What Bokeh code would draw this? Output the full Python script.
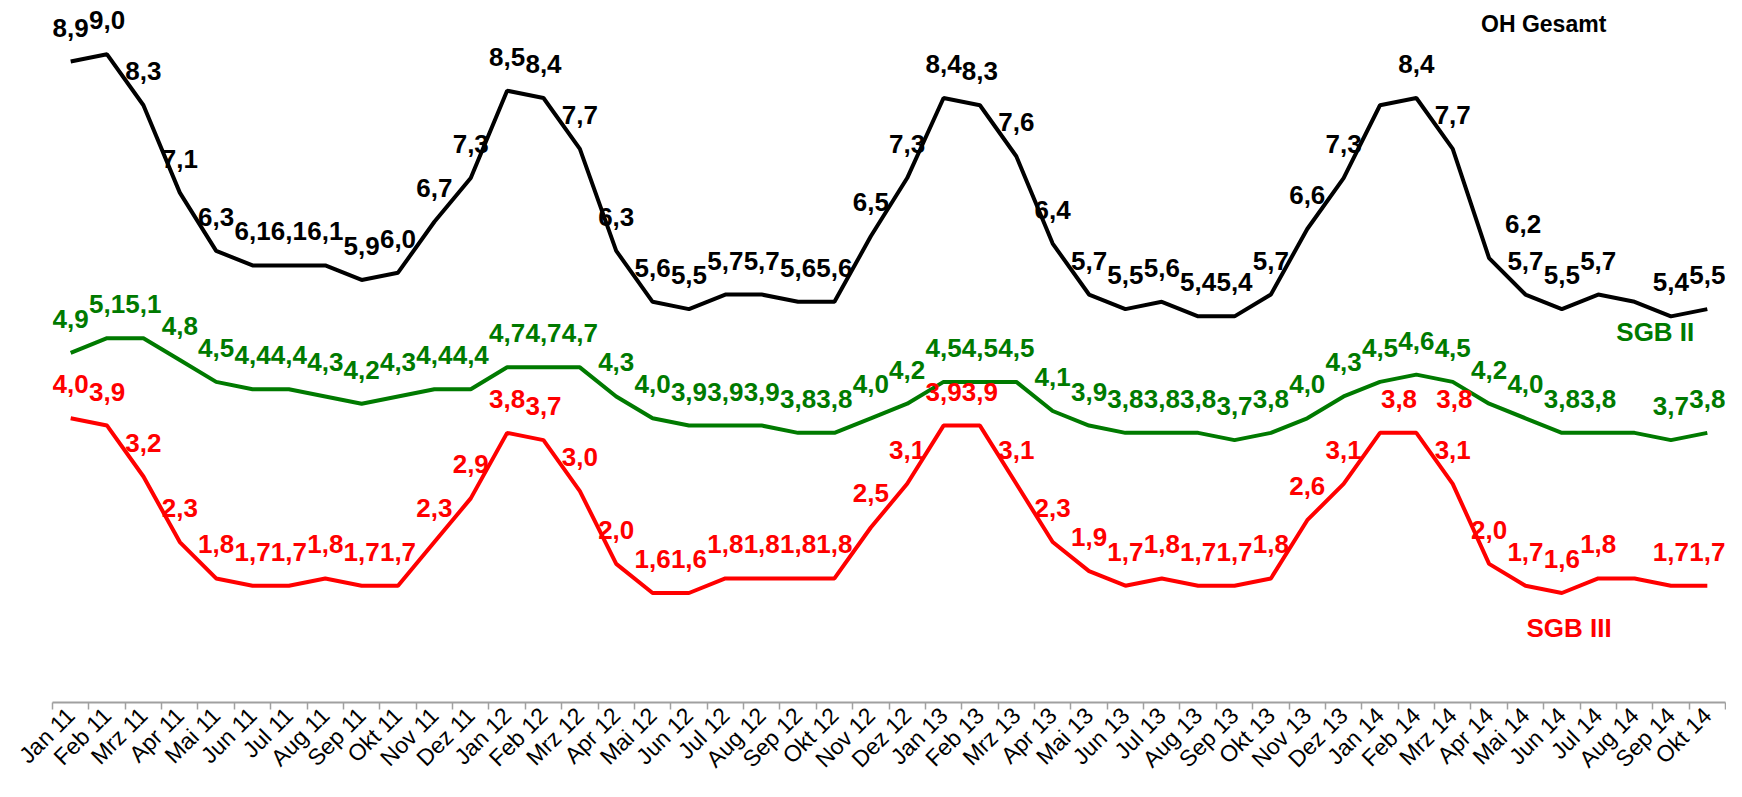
from bokeh.plotting import figure
from bokeh.models import Range1d, FixedTicker, ColumnDataSource
from bokeh.embed import file_html
from bokeh.resources import INLINE
from bokeh.core.properties import value

months = ["Jan 11", "Feb 11", "Mrz 11", "Apr 11", "Mai 11", "Jun 11", "Jul 11", "Aug 11", "Sep 11", "Okt 11", "Nov 11", "Dez 11",
          "Jan 12", "Feb 12", "Mrz 12", "Apr 12", "Mai 12", "Jun 12", "Jul 12", "Aug 12", "Sep 12", "Okt 12", "Nov 12", "Dez 12",
          "Jan 13", "Feb 13", "Mrz 13", "Apr 13", "Mai 13", "Jun 13", "Jul 13", "Aug 13", "Sep 13", "Okt 13", "Nov 13", "Dez 13",
          "Jan 14", "Feb 14", "Mrz 14", "Apr 14", "Mai 14", "Jun 14", "Jul 14", "Aug 14", "Sep 14", "Okt 14"]

oh_gesamt = [8.9, 9.0, 8.3, 7.1, 6.3, 6.1, 6.1, 6.1, 5.9, 6.0, 6.7, 7.3,
             8.5, 8.4, 7.7, 6.3, 5.6, 5.5, 5.7, 5.7, 5.6, 5.6, 6.5, 7.3,
             8.4, 8.3, 7.6, 6.4, 5.7, 5.5, 5.6, 5.4, 5.4, 5.7, 6.6, 7.3,
             8.3, 8.4, 7.7, 6.2, 5.7, 5.5, 5.7, 5.6, 5.4, 5.5]

sgb_ii = [4.9, 5.1, 5.1, 4.8, 4.5, 4.4, 4.4, 4.3, 4.2, 4.3, 4.4, 4.4,
          4.7, 4.7, 4.7, 4.3, 4.0, 3.9, 3.9, 3.9, 3.8, 3.8, 4.0, 4.2,
          4.5, 4.5, 4.5, 4.1, 3.9, 3.8, 3.8, 3.8, 3.7, 3.8, 4.0, 4.3,
          4.5, 4.6, 4.5, 4.2, 4.0, 3.8, 3.8, 3.8, 3.7, 3.8]

sgb_iii = [4.0, 3.9, 3.2, 2.3, 1.8, 1.7, 1.7, 1.8, 1.7, 1.7, 2.3, 2.9,
           3.8, 3.7, 3.0, 2.0, 1.6, 1.6, 1.8, 1.8, 1.8, 1.8, 2.5, 3.1,
           3.9, 3.9, 3.1, 2.3, 1.9, 1.7, 1.8, 1.7, 1.7, 1.8, 2.6, 3.1,
           3.8, 3.8, 3.1, 2.0, 1.7, 1.6, 1.8, 1.8, 1.7, 1.7]

series_names = ["OH Gesamt", "SGB II", "SGB III"]

# style: colours, hidden labels, label nudges (px) and series-name anchors / sizes
colors = {"OH Gesamt": "#000000", "SGB II": "#007A00", "SGB III": "#FF0000"}
hidden = {"OH Gesamt": [36, 43], "SGB II": [43], "SGB III": [43]}
nudge_x = {"OH Gesamt": {39: 34}, "SGB II": {}, "SGB III": {36: 19, 37: 38}}
name_pos = {"OH Gesamt": (40.5, 9.42), "SGB II": (43.57, 5.18), "SGB III": (41.2, 1.12)}
name_size = {"OH Gesamt": "23px", "SGB II": "26px", "SGB III": "26px"}

FONT = "Liberation Sans"

p = figure(width=1726, height=781, output_backend="svg", toolbar_location=None,
           frame_width=1673, frame_height=698,
           x_range=Range1d(-0.5, 45.5), y_range=Range1d(0.096, 9.684),
           min_border_left=52, min_border_right=1, min_border_top=4, min_border_bottom=79)
p.outline_line_color = None
p.grid.visible = False
p.yaxis.visible = False

xs = list(range(len(months)))
p.xaxis.ticker = FixedTicker(ticks=xs, minor_ticks=[i - 0.5 for i in range(len(months) + 1)])
p.xaxis.major_label_overrides = {i: m for i, m in enumerate(months)}
p.xaxis.major_label_orientation = 0.785
p.xaxis.major_label_text_font = FONT
p.xaxis.major_label_text_font_size = "23px"
p.xaxis.major_label_text_color = "#000000"
p.xaxis.major_label_standoff = 2
p.xaxis.major_tick_line_color = None
p.xaxis.minor_tick_line_color = "#A0A0A0"
p.xaxis.minor_tick_line_width = 1.5
p.xaxis.minor_tick_out = 7
p.xaxis.minor_tick_in = 0
p.xaxis.axis_line_color = "#A0A0A0"
p.xaxis.axis_line_width = 2

for name, vals in zip(series_names, [oh_gesamt, sgb_ii, sgb_iii]):
    col = colors[name]
    labels = ["" if i in hidden[name] else f"{v:.1f}".replace(".", ",") for i, v in enumerate(vals)]
    dx = [nudge_x[name].get(i, 0) for i in xs]
    src = ColumnDataSource(dict(x=xs, y=vals, lab=labels, dx=dx))
    p.line("x", "y", source=src, line_color=col, line_width=4)
    p.text("x", "y", text="lab", source=src, x_offset="dx", y_offset=-34,
           text_align="center", text_baseline="middle",
           text_font=value(FONT), text_font_style="bold", text_font_size="26px",
           text_color=col)
    nx, ny = name_pos[name]
    p.text(x=[nx], y=[ny], text=[name], text_align="center", text_baseline="middle",
           text_font=value(FONT), text_font_style="bold", text_font_size=name_size[name],
           text_color=col)

open("out.html", "w").write(file_html(p, INLINE))
